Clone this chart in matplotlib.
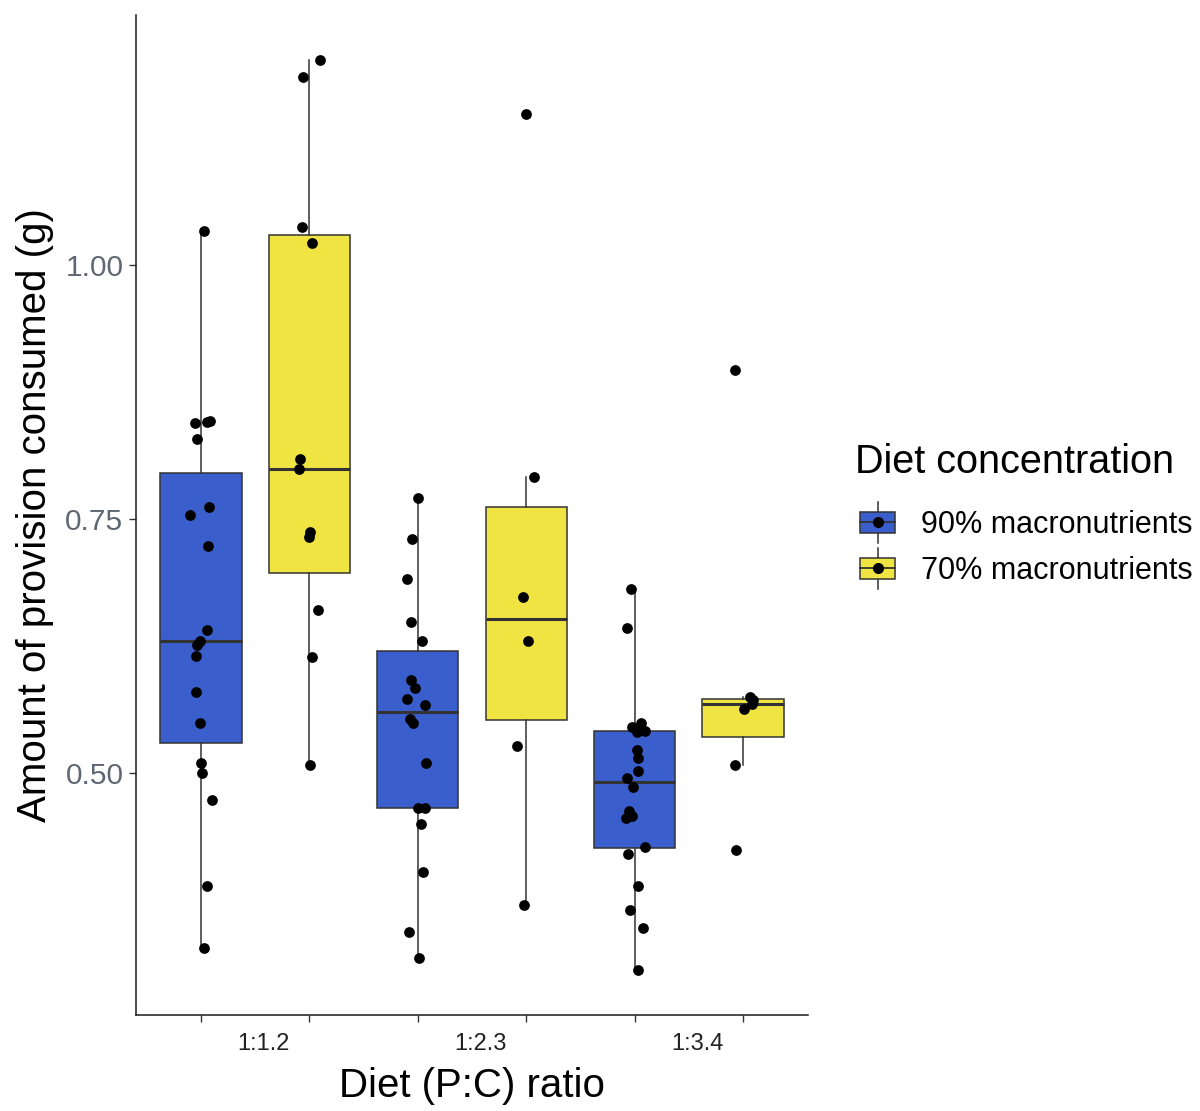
import numpy as np
import matplotlib
matplotlib.use('Agg')
import matplotlib.pyplot as plt
from matplotlib.patches import Rectangle
from matplotlib.lines import Line2D
from matplotlib.legend_handler import HandlerBase

plt.rcParams['font.family'] = ['Liberation Sans', 'DejaVu Sans']

# provision consumed (g) per diet ratio and concentration
ratios = ['1:1.2', '1:2.3', '1:3.4']
groups = ['90% macronutrients', '70% macronutrients']

c90_112 = [1.033, 0.846, 0.845, 0.844, 0.829, 0.762, 0.754, 0.724, 0.641, 0.630,
           0.626, 0.615, 0.580, 0.549, 0.510, 0.500, 0.474, 0.389, 0.328]
c70_112 = [1.201, 1.185, 1.037, 1.021, 0.809, 0.799, 0.737, 0.732, 0.661, 0.614, 0.508]
c90_123 = [0.771, 0.730, 0.691, 0.649, 0.630, 0.592, 0.584, 0.573, 0.567, 0.553,
           0.549, 0.510, 0.466, 0.466, 0.450, 0.403, 0.344, 0.318]
c70_123 = [1.148, 0.791, 0.673, 0.630, 0.527, 0.370]
c90_134 = [0.681, 0.643, 0.549, 0.546, 0.542, 0.541, 0.523, 0.515, 0.502, 0.495,
           0.487, 0.463, 0.458, 0.456, 0.428, 0.421, 0.389, 0.366, 0.348, 0.307]
c70_134 = [0.897, 0.575, 0.572, 0.568, 0.563, 0.508, 0.425]

data = [c90_112, c70_112, c90_123, c70_123, c90_134, c70_134]
colors = ['#3A5FCD', '#F0E442'] * 3
edge = '#333333'

fig = plt.figure(figsize=(12, 11.11), dpi=100)
ax = fig.add_axes([136/1200, 1 - 1015/1111, 672/1200, 1000/1111])

pos = np.arange(1, 7)
bp = ax.boxplot(data, positions=pos, widths=0.75, patch_artist=True,
                showfliers=False, showcaps=False, whis=1.5,
                medianprops=dict(color=edge, lw=2.2),
                whiskerprops=dict(color=edge, lw=1.1),
                boxprops=dict(edgecolor=edge, lw=1.1))
for patch, col in zip(bp['boxes'], colors):
    patch.set_facecolor(col)

# jittered raw points
rng = np.random.default_rng(7)
for p, vals in zip(pos, data):
    xs = p + rng.uniform(-0.1, 0.1, len(vals))
    ax.scatter(xs, vals, s=60, color='black', zorder=3, linewidths=0)

allv = np.concatenate(data)
lo, hi = allv.min(), allv.max()
pad = 0.05 * (hi - lo)
ax.set_ylim(lo - pad, hi + pad)
ax.set_xlim(0.4, 6.6)

ax.set_yticks([0.5, 0.75, 1.0])
ax.set_yticklabels(['0.50', '0.75', '1.00'])
ax.set_xticks(pos)
ax.set_xticklabels([])
# ratio labels sit between each pair of boxes
ax.set_xticks(pos[::2] + 0.58, minor=True)
ax.set_xticklabels(ratios, minor=True)
ax.tick_params(axis='y', length=5, width=1, color=edge, pad=4,
               labelsize=21.5, labelcolor='#5f6773')
ax.tick_params(axis='x', which='major', length=5, width=1, color=edge)
ax.tick_params(axis='x', which='minor', length=0, pad=13,
               labelsize=17, labelcolor='#222222')

for s in ['top', 'right']:
    ax.spines[s].set_visible(False)
for s in ['left', 'bottom']:
    ax.spines[s].set_linewidth(1.1)
    ax.spines[s].set_color('#1a1a1a')

ax.set_xlabel('Diet (P:C) ratio', fontsize=29)
ax.set_ylabel('Amount of provision consumed (g)', fontsize=29)
ax.xaxis.set_label_coords(0.5, -0.052)
ax.yaxis.set_label_coords(-0.122, 0.5)


class BoxKey(HandlerBase):
    def create_artists(self, legend, orig_handle, xdescent, ydescent,
                       width, height, fontsize, trans):
        x0, y0 = -xdescent, -ydescent
        cx, cy = x0 + width / 2, y0 + height / 2
        whisk = Line2D([cx, cx], [y0 - 0.45 * height, y0 + 1.45 * height],
                       color=edge, lw=1.1, transform=trans)
        rect = Rectangle((x0, y0), width, height, facecolor=orig_handle.get_facecolor(),
                         edgecolor=edge, lw=1.1, transform=trans)
        med = Line2D([x0, x0 + width], [cy, cy], color=edge, lw=1.3, transform=trans)
        dot = Line2D([cx], [cy], marker='o', ms=7, color='black', transform=trans)
        return [whisk, rect, med, dot]


fig.text(855/1200, 1 - 462/1111, 'Diet concentration', fontsize=28.5,
         ha='left', va='center')
handles = [Rectangle((0, 0), 1, 1, facecolor=c) for c in colors[:2]]
leg = fig.legend(handles, groups, handler_map={Rectangle: BoxKey()},
                 loc='upper left', bbox_to_anchor=(860/1200, 1 - 510/1111),
                 frameon=False, fontsize=22, borderpad=0, borderaxespad=0,
                 handlelength=1.15, handleheight=0.7, handletextpad=0.85,
                 labelspacing=0.52)

plt.savefig('out.png', dpi=100)
